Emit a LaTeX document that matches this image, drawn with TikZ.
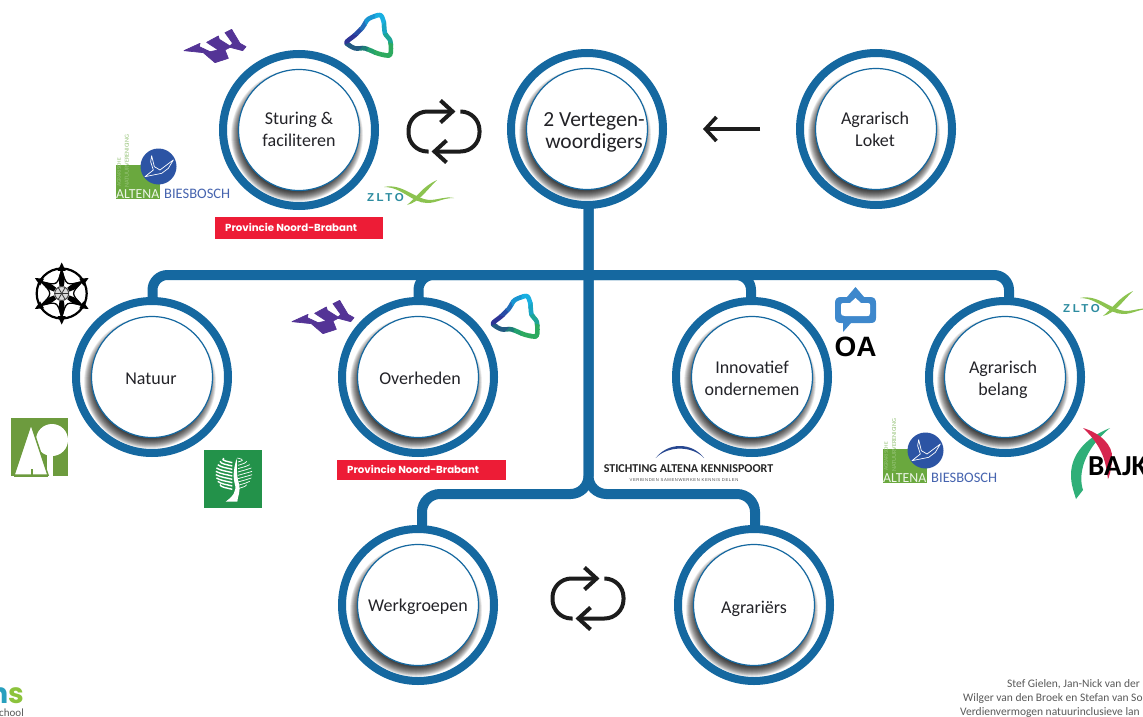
\documentclass[tikz,border=0pt]{standalone}
\usepackage{fontspec}
\setmainfont{Carlito}
\newfontfamily\popfont{Poppins}
\newfontfamily\arialfont{Liberation Sans}
\newfontfamily\ksub[LetterSpace=14]{Liberation Sans}
\newfontfamily\zfont[LetterSpace=22]{Liberation Sans}
\usetikzlibrary{arrows.meta}
\definecolor{ringblue}{RGB}{21,104,160}
\definecolor{wpurple}{RGB}{84,52,150}
\definecolor{txtdark}{RGB}{35,35,40}
\definecolor{icondark}{RGB}{28,28,28}
\definecolor{prov}{RGB}{237,28,54}
\definecolor{altgreen}{RGB}{106,168,62}
\definecolor{altpale}{RGB}{150,195,120}
\definecolor{altblue}{RGB}{44,84,164}
\definecolor{biesblue}{RGB}{70,100,175}
\definecolor{ztext}{RGB}{45,140,160}
\definecolor{zgreen}{RGB}{140,195,80}
\definecolor{tA}{RGB}{46,52,150}
\definecolor{tB}{RGB}{40,75,165}
\definecolor{tC}{RGB}{35,110,185}
\definecolor{tD}{RGB}{25,150,210}
\definecolor{tE}{RGB}{25,175,225}
\definecolor{tF}{RGB}{25,165,195}
\definecolor{tG}{RGB}{30,165,150}
\definecolor{tH}{RGB}{45,170,95}
\definecolor{tI}{RGB}{35,160,110}
\definecolor{tJ}{RGB}{30,125,120}
\definecolor{tK}{RGB}{35,90,130}
\definecolor{tL}{RGB}{42,65,145}
\definecolor{ta}{RGB}{109,155,62}
\definecolor{tb}{RGB}{35,146,74}
\definecolor{oab}{RGB}{62,136,204}
\definecolor{karc}{RGB}{40,72,145}
\definecolor{bg}{RGB}{47,175,120}
\definecolor{br}{RGB}{214,38,79}
\definecolor{nteal}{RGB}{40,160,190}
\definecolor{sgreen}{RGB}{140,195,60}
\tikzset{
  ringnode/.style={circle,draw=ringblue,line width=8pt,fill=white,minimum size=152pt,inner sep=0pt,outer sep=0pt},
  innernode/.style={circle,draw=ringblue,line width=1.2pt,fill=white,minimum size=121pt,inner sep=0pt,outer sep=0pt},
  label/.style={align=center,text=txtdark,font=\fontsize{18}{22}\selectfont,inner sep=0pt},
  conn/.style={draw=ringblue,line width=10pt},
  loopline/.style={draw=icondark,line width=4pt},
  provtext/.style={text=white,font=\popfont\bfseries\fontsize{10.2}{12}\selectfont,anchor=west,inner sep=0pt},
  foot/.style={text=black!65,font=\fontsize{11.5}{13}\selectfont,anchor=west,inner sep=0pt}
}
\newcommand{\ringcirc}[6]{%
  \node[ringnode] (#1) at (#2,#3) {};
  \foreach \k in {0,...,20}{\fill[black,opacity=.06] (#2-2,#3+5.5) circle ({56+0.5*\k});}
  \node[innernode] (#1-c) at (#2,#3) {};
  \node[label] (#1-t) at (#4,#5) {#6};
}
\newcommand{\wlogo}[3]{%
  \begin{scope}[shift={(#2,#3)},scale=0.3333]
  \fill[wpurple,draw=wpurple,line width=.7pt,line join=round] (12,122) -- (60,100) -- (58,110) -- (90,125) -- (115,120) -- (80,97) -- (115,78) -- (118,88) -- (150,108) -- (158,100) -- (135,68) -- (155,58) -- (165,75) -- (180,100) -- (198,110) -- (188,122) -- (150,112) -- (135,120) -- (145,145) -- (105,158) -- (70,128) -- cycle;
  \end{scope}}
\newcommand{\trilogo}[3]{%
  \begin{scope}[shift={(#2,#3)},scale=0.3333]
  \foreach \a/\c in {180/tA,210/tB,240/tC,270/tD,300/tE,330/tF,0/tG,30/tH,60/tH,90/tI,120/tJ,150/tK}{
    \begin{scope}
    \clip (105,100) -- +(\a-17:220) -- +(\a+17:220) -- cycle;
    \draw[\c,line width=4.6pt,line join=round] plot[smooth cycle,tension=.45] coordinates {(34,113) (58,92) (82,68) (100,42) (135,30) (146,50) (150,85) (166,108) (165,150) (130,146) (90,130) (60,130)};
    \end{scope}}
  \end{scope}}
\newcommand{\altenalogo}[3]{%
  \begin{scope}[shift={(#2,#3)}]
  \fill[altgreen] (116,165) rectangle (160,199);
  \node[rotate=90,anchor=west,text=altpale,inner sep=0pt,font=\fontsize{5.5}{6}\selectfont] (#1-a) at (119,187) {AGRARISCHE};
  \node[rotate=90,anchor=west,text=altpale,inner sep=0pt,font=\fontsize{6.2}{6}\selectfont] (#1-n) at (127,188) {NATUURVERENIGING};
  \fill[altblue] (158.5,166.5) circle (18);
  \begin{scope}[shift={(110,125)},scale=0.3333]
  \draw[white,line width=.7pt,line join=round] (125,92) -- (133,125) -- (150,135) -- (190,105) -- (175,130) -- (155,145) -- (140,148) -- (105,155) -- (130,135) -- (122,110) -- cycle;
  \end{scope}
  \node[anchor=base west,text=white!88!altgreen,inner sep=0pt,font=\fontsize{13.8}{14}\selectfont] (#1-l) at (116,198) {ALTENA};
  \node[anchor=base west,text=biesblue,inner sep=0pt,font=\fontsize{14.5}{15}\selectfont] (#1-b) at (164,198.5) {BIESBOSCH};
  \end{scope}}
\newcommand{\zltologo}[3]{%
  \begin{scope}[shift={(#2,#3)}]
  \fill[zgreen] (17,-5) .. controls (35,-9) and (48,7) .. (62,8) .. controls (72,8) and (78,4) .. (87,6) .. controls (75,6) and (70,11) .. (60,11) .. controls (45,11) and (35,-5) .. cycle;
  \fill[zgreen] (70,-12) .. controls (55,-5) and (50,5) .. (40,13) .. controls (52,10) and (58,0) .. cycle;
  \node[anchor=base west,text=ztext,inner sep=0pt,font=\zfont\bfseries\fontsize{11.5}{12}\selectfont] (#1) at (0,9) {ZLTO};
  \end{scope}}
\newcommand{\loopicon}[2]{%
  \begin{scope}[shift={(#1,#2)}]
  \draw[loopline,rounded corners=19pt] (-15,20) -- (-35,20) -- (-35,-20) -- (8,-20);
  \draw[loopline] (-3,-31) -- (9,-20) -- (-3,-9);
  \draw[loopline,rounded corners=19pt] (18,-20) -- (36,-20) -- (36,20) -- (-8,20);
  \draw[loopline] (3,9) -- (-9,20) -- (3,31);
  \end{scope}}
\begin{document}
\begin{tikzpicture}[x=1pt,y=-1pt]
\useasboundingbox (0,0) rectangle (1143,717);
\clip (0,0) rectangle (1143,717);
\fill[white] (0,0) rectangle (1143,717);

\coordinate (barm) at (588.5,275);
\coordinate (fork) at (588.5,494);
\node[ringnode,draw=none,fill=none] (vs) at (588.5,129) {};
\node[ringnode,draw=none,fill=none] (nats) at (152.5,377) {};
\node[ringnode,draw=none,fill=none] (ovhs) at (418.5,377) {};
\node[ringnode,draw=none,fill=none] (inns) at (751,377) {};
\node[ringnode,draw=none,fill=none] (blgs) at (1009,377) {};
\node[ringnode,draw=none,fill=none] (wrks) at (422,605) {};
\node[ringnode,draw=none,fill=none] (agrs) at (755,605) {};
\draw[conn,rounded corners=15pt] (nats.north) |- (barm) -| (blgs.north);
\draw[conn,rounded corners=15pt] (barm) -| (ovhs.north);
\draw[conn,rounded corners=15pt] (barm) -| (inns.north);
\draw[conn,rounded corners=18pt] (vs.south) -- (fork) -| (wrks.north);
\draw[conn,rounded corners=18pt] (vs.south) -- (fork) -| (agrs.north);

\ringcirc{stu}{299}{130}{299}{129}{Sturing \&\\faciliteren}
\ringcirc{ver}{587}{129}{594}{132.5}{\fontsize{21.5}{22}\selectfont 2 Vertegen-\\\fontsize{21.5}{22}\selectfont woordigers}
\ringcirc{lok}{876}{129}{875}{129}{Agrarisch\\Loket}
\ringcirc{nat}{152}{377}{151}{379}{Natuur}
\ringcirc{ovh}{418}{377}{420}{378}{Overheden}
\ringcirc{inn}{752}{377}{752}{378}{Innovatief\\ondernemen}
\ringcirc{blg}{1005}{377}{1003}{380}{Agrarisch\\belang}
\ringcirc{wrk}{418}{605}{418}{607}{Werkgroepen}
\ringcirc{agr}{754}{605}{754}{609}{Agrariërs}

\loopicon{443.5}{131.5}
\loopicon{587.5}{598.5}
\coordinate (arrowS) at (760,129);
\coordinate (arrowE) at (703,129);
\draw[draw=icondark,line width=3.6pt,-{Straight Barb[length=11pt,width=24pt]}] (arrowS) -- (arrowE);

\wlogo{w1}{180}{10}
\wlogo{w2}{288}{281}
\trilogo{t1}{335}{5}
\trilogo{t2}{481.5}{286}
\altenalogo{al1}{0}{0}
\altenalogo{al2}{767}{284}
\zltologo{z1}{367}{192}
\zltologo{z2}{1063}{303}

\fill[prov] (215,217) rectangle (383,239);
\node[provtext] (prov1) at (225,227.5) {Provincie Noord-Brabant};
\fill[prov] (337,460) rectangle (505.5,480);
\node[provtext] (prov2) at (347,469.5) {Provincie Noord-Brabant};

% wheel
\begin{scope}[shift={(61.7,293.5)}]
  \draw[black,line width=2.2pt] (0,0) circle (25);
  \foreach \a in {30,90,...,330}{
    \fill[black] (\a:31) -- (\a+10:23) -- (\a-10:23) -- cycle;
    \fill[black] (\a:25) .. controls (\a+12:16) .. (\a+16:8) -- (\a-16:8) .. controls (\a-12:16) .. cycle;
    \draw[black,line width=1.3pt] (\a:24) .. controls (\a+30:9) .. (\a+60:24);
  }
  \fill[black!15] (0,0) circle (7.5);
  \draw[black!75,line width=1pt] (0,0) circle (7);
  \foreach \a in {0,60,120}{\draw[black!80,line width=.8pt] (\a:7) -- (\a+180:7);}
\end{scope}

% tree icon
\fill[ta] (11,418) rectangle (68,476);
\fill[white] (52,440) circle (16);
\fill[white] (47,450) rectangle (53,476);
\draw[ta,line width=1.5pt,fill=white] (31,424) -- (48,475) -- (14,475) -- cycle;
\draw[ta,line width=1.5pt] (32,469) -- (32,476);
\draw[ta,line width=1.5pt] (14,476) -- (48,476);

% oak icon
\fill[tb] (204,450) rectangle (262,508);
\begin{scope}[shift={(204,450)},scale=0.3333]
  \foreach \y in {30,40,...,110}{
    \draw[white,line width=1.4pt] (85,\y+8) .. controls (70,\y+4) and (50,\y+2) .. ({90-sqrt(max(0,3000-(\y-75)*(\y-75)))},\y-6);
    \draw[white,line width=.7pt] (102,\y+6) .. controls (115,\y+2) and (125,\y) .. ({100+sqrt(max(0,2000-(\y-75)*(\y-75)))},\y-6);
  }
  \fill[white] (65,155) .. controls (85,140) and (100,125) .. (92,100) .. controls (85,75) and (92,45) .. (98,25) .. controls (100,45) and (96,70) .. (104,98) .. controls (112,125) and (100,140) .. (100,155) -- cycle;
\end{scope}

% OA
\fill[oab] (855.5,287) -- (864,297) -- (870,297) .. controls (874,297) and (876,299) .. (876,303) -- (876,318) .. controls (876,322) and (874,323) .. (870,323) -- (851,323) -- (843,332) -- (843,323) -- (841,323) .. controls (837,323) and (835,321) .. (835,317) -- (835,303) .. controls (835,299) and (837,297) .. (841,297) -- (847,297) -- cycle;
\fill[white] (855.5,298) -- (861,303) -- (868,303) .. controls (869.5,303) and (870,304) .. (870,305) -- (870,313) .. controls (870,316) and (869,316) .. (867,316) -- (845,316) .. controls (842,316) and (841,315) .. (841,313) -- (841,305) .. controls (841,304) and (841.5,303) .. (843,303) -- (850,303) -- cycle;
\node[anchor=base,text=black,inner sep=0pt,font=\arialfont\bfseries\fontsize{28}{30}\selectfont] (oa) at (855.5,356) {OA};

% Kennispoort
\fill[karc] (655.7,458) .. controls (668,442) and (692,442) .. (704,458) .. controls (692,445.5) and (668,445.5) .. cycle;
\node[anchor=base,text=black!85,inner sep=0pt,font=\bfseries\fontsize{12}{13}\selectfont] (kp) at (688.5,472) {STICHTING ALTENA KENNISPOORT};
\node[anchor=base,text=black!70,inner sep=0pt,font=\ksub\fontsize{4.2}{5}\selectfont] (kps) at (684,481) {VERBINDEN  SAMENWERKEN  KENNIS DELEN};

% BAJK
\fill[bg] (1110,428) .. controls (1085,438) and (1071,455) .. (1071,475) .. controls (1071,485) and (1074,492) .. (1076,499) -- (1083,490) .. controls (1078,475) and (1083,450) .. cycle;
\fill[br] (1083,428) .. controls (1100,433) and (1113,445) .. (1112,458) .. controls (1112,465) and (1110,475) .. (1108,479) .. controls (1106,470) and (1107,450) .. cycle;
\node[anchor=base west,text=black,inner sep=0pt,font=\bfseries\fontsize{29}{30}\selectfont] (bajk) at (1088,475) {BAJK};

% footers
\node[foot] (f1) at (1007,684) {Stef Gielen, Jan-Nick van der};
\node[foot] (f2) at (963,698) {Wilger van den Broek en Stefan van So};
\node[foot] (f3) at (960,712) {Verdienvermogen natuurinclusieve lan};
\node[anchor=base east,inner sep=0pt,font=\popfont\bfseries\fontsize{28}{30}\selectfont] (ns) at (24,703) {\textcolor{nteal}{n}\textcolor{sgreen}{s}};
\node[anchor=base east,text=black!65,inner sep=0pt,font=\fontsize{11}{12}\selectfont] (sch) at (24,716) {school};
\end{tikzpicture}
\end{document}
